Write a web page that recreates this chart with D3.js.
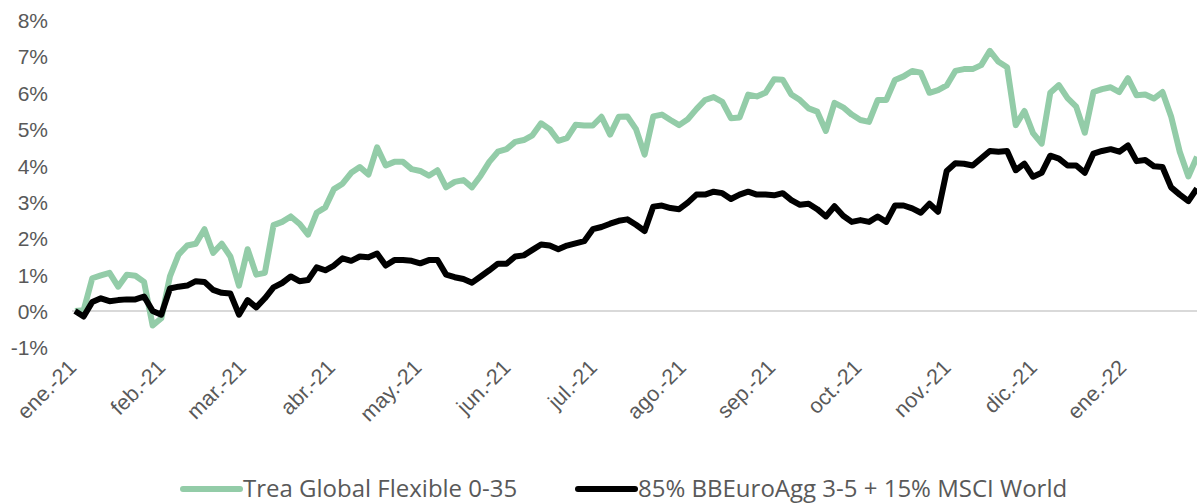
<!DOCTYPE html>
<html>
<head>
<meta charset="utf-8">
<script src="https://cdn.jsdelivr.net/npm/d3@7"></script>
<style>
    html, body { margin: 0; padding: 0; background: #fff; }
    svg { display: block; font-family: "Open Sans", sans-serif; }
    .axis text { fill: #595959; }
    .axis path, .axis line { display: none; }
</style>
</head>
<body>
<div id="chart"></div>
<script>
"use strict";

// Dates of the readings (every third day)
var dates = [
    "2021-01-01","2021-01-04","2021-01-07","2021-01-10","2021-01-13","2021-01-16","2021-01-19","2021-01-22","2021-01-25","2021-01-28",
    "2021-01-31","2021-02-03","2021-02-06","2021-02-09","2021-02-12","2021-02-15","2021-02-18","2021-02-21","2021-02-24","2021-02-27",
    "2021-03-02","2021-03-05","2021-03-08","2021-03-11","2021-03-14","2021-03-17","2021-03-20","2021-03-23","2021-03-26","2021-03-29",
    "2021-04-01","2021-04-04","2021-04-07","2021-04-10","2021-04-13","2021-04-16","2021-04-19","2021-04-22","2021-04-25","2021-04-28",
    "2021-05-01","2021-05-04","2021-05-07","2021-05-10","2021-05-13","2021-05-16","2021-05-19","2021-05-22","2021-05-25","2021-05-28",
    "2021-05-31","2021-06-03","2021-06-06","2021-06-09","2021-06-12","2021-06-15","2021-06-18","2021-06-21","2021-06-24","2021-06-27",
    "2021-06-30","2021-07-03","2021-07-06","2021-07-09","2021-07-12","2021-07-15","2021-07-18","2021-07-21","2021-07-24","2021-07-27",
    "2021-07-30","2021-08-02","2021-08-05","2021-08-08","2021-08-11","2021-08-14","2021-08-17","2021-08-20","2021-08-23","2021-08-26",
    "2021-08-29","2021-09-01","2021-09-04","2021-09-07","2021-09-10","2021-09-13","2021-09-16","2021-09-19","2021-09-22","2021-09-25",
    "2021-09-28","2021-10-01","2021-10-04","2021-10-07","2021-10-10","2021-10-13","2021-10-16","2021-10-19","2021-10-22","2021-10-25",
    "2021-10-28","2021-10-31","2021-11-03","2021-11-06","2021-11-09","2021-11-12","2021-11-15","2021-11-18","2021-11-21","2021-11-24",
    "2021-11-27","2021-11-30","2021-12-03","2021-12-06","2021-12-09","2021-12-12","2021-12-15","2021-12-18","2021-12-21","2021-12-24",
    "2021-12-27","2021-12-30","2022-01-02","2022-01-05","2022-01-08","2022-01-11","2022-01-14","2022-01-17","2022-01-20","2022-01-23",
    "2022-01-26"
];

// Trea Global Flexible 0-35, cumulative return in %
var fundValues = [
    0.00, 0.02, 0.90, 0.98, 1.05, 0.67, 1.00, 0.97, 0.80, -0.40,
    -0.20, 0.95, 1.55, 1.80, 1.85, 2.25, 1.60, 1.85, 1.50, 0.70,
    1.70, 1.00, 1.05, 2.36, 2.45, 2.60, 2.40, 2.10, 2.70, 2.85,
    3.35, 3.50, 3.80, 3.96, 3.75, 4.50, 4.00, 4.10, 4.10, 3.90,
    3.85, 3.72, 3.87, 3.40, 3.55, 3.60, 3.40, 3.72, 4.10, 4.38,
    4.45, 4.65, 4.70, 4.83, 5.16, 5.00, 4.68, 4.75, 5.12, 5.10,
    5.10, 5.34, 4.85, 5.34, 5.35, 5.00, 4.30, 5.35, 5.40, 5.25,
    5.11, 5.27, 5.55, 5.80, 5.88, 5.75, 5.30, 5.32, 5.95, 5.90,
    6.00, 6.37, 6.36, 5.95, 5.80, 5.57, 5.48, 4.95, 5.72, 5.60,
    5.40, 5.25, 5.20, 5.80, 5.80, 6.35, 6.45, 6.60, 6.55, 6.00,
    6.07, 6.20, 6.60, 6.65, 6.65, 6.76, 7.15, 6.85, 6.70, 5.11,
    5.50, 4.89, 4.60, 6.00, 6.21, 5.85, 5.62, 4.90, 6.02, 6.10,
    6.15, 6.02, 6.40, 5.93, 5.95, 5.84, 6.02, 5.35, 4.38, 3.70,
    4.24
];

// 85% BBEuroAgg 3-5 + 15% MSCI World, cumulative return in %
var benchValues = [
    0.00, -0.15, 0.25, 0.35, 0.27, 0.30, 0.32, 0.32, 0.40, 0.00,
    -0.10, 0.62, 0.67, 0.70, 0.82, 0.80, 0.58, 0.50, 0.48, -0.10,
    0.30, 0.10, 0.35, 0.65, 0.77, 0.95, 0.82, 0.85, 1.20, 1.12,
    1.25, 1.45, 1.38, 1.50, 1.48, 1.58, 1.25, 1.40, 1.40, 1.38,
    1.31, 1.40, 1.40, 1.00, 0.93, 0.88, 0.78, 0.95, 1.12, 1.30,
    1.30, 1.50, 1.53, 1.68, 1.83, 1.80, 1.70, 1.80, 1.86, 1.92,
    2.25, 2.31, 2.40, 2.48, 2.52, 2.37, 2.20, 2.87, 2.90, 2.83,
    2.80, 2.98, 3.20, 3.20, 3.28, 3.24, 3.08, 3.20, 3.28, 3.20,
    3.20, 3.18, 3.24, 3.05, 2.92, 2.95, 2.80, 2.60, 2.88, 2.62,
    2.45, 2.50, 2.45, 2.60, 2.45, 2.90, 2.90, 2.82, 2.70, 2.95,
    2.73, 3.85, 4.06, 4.05, 4.00, 4.20, 4.40, 4.38, 4.40, 3.87,
    4.05, 3.69, 3.80, 4.27, 4.19, 4.00, 4.00, 3.80, 4.33, 4.40,
    4.45, 4.38, 4.55, 4.12, 4.15, 3.98, 3.96, 3.40, 3.20, 3.02,
    3.37
];

var yTicks = [-1, 0, 1, 2, 3, 4, 5, 6, 7, 8];
var monthTicks = [
    "2021-01-01","2021-02-01","2021-03-01","2021-04-01","2021-05-01","2021-06-01",
    "2021-07-01","2021-08-01","2021-09-01","2021-10-01","2021-11-01","2021-12-01","2022-01-01"
];
var monthLabels = ["ene.-21","feb.-21","mar.-21","abr.-21","may.-21","jun.-21",
    "jul.-21","ago.-21","sep.-21","oct.-21","nov.-21","dic.-21","ene.-22"];

var seriesNames = ["Trea Global Flexible 0-35", "85% BBEuroAgg 3-5 + 15% MSCI World"];
var seriesColors = ["#93cca8", "#000000"];

var W = 1197, H = 503;
var parse = d3.timeParse("%Y-%m-%d");

var xScale = d3.scaleTime()
    .domain([parse(dates[0]), parse(dates[dates.length - 1])])
    .range([75, 1197]);
var yScale = d3.scaleLinear()
    .domain([-1, 8])
    .range([347.4, 20]);

var svg = d3.select("#chart").append("svg")
    .attr("width", W)
    .attr("height", H);

// Zero line only, as in the source
svg.append("line")
    .attr("x1", 72).attr("x2", W)
    .attr("y1", yScale(0)).attr("y2", yScale(0))
    .style("stroke", "#d9d9d9")
    .style("stroke-width", 2);

// Y axis
var yAxis = d3.axisLeft(yScale)
    .tickValues(yTicks)
    .tickSize(0)
    .tickPadding(0)
    .tickFormat(function(d) { return d + "%"; });
svg.append("g")
    .attr("class", "y axis")
    .attr("transform", "translate(48,0)")
    .call(yAxis)
    .selectAll("text")
    .style("font-size", "21px")
    .attr("dy", "0.36em");

// X axis, labels turned 45 degrees
var xAxis = d3.axisBottom(xScale)
    .tickValues(monthTicks.map(parse))
    .tickSize(0)
    .tickFormat(function(d, i) { return monthLabels[i]; });
svg.append("g")
    .attr("class", "x axis")
    .attr("transform", "translate(0,371)")
    .call(xAxis)
    .selectAll("text")
    .style("font-size", "21.5px")
    .style("text-anchor", "end")
    .attr("x", 3)
    .attr("y", 0)
    .attr("dy", 0)
    .attr("transform", "rotate(-45)");

// Lines
var line = d3.line()
    .x(function(d) { return xScale(d[0]); })
    .y(function(d) { return yScale(d[1]); });

[fundValues, benchValues].forEach(function(values, i) {
    var data = dates.map(function(d, j) { return [parse(d), values[j]]; });
    svg.append("path")
        .datum(data)
        .attr("d", line)
        .style("fill", "none")
        .style("stroke", seriesColors[i])
        .style("stroke-width", 6)
        .style("stroke-linejoin", "round");
});

// Legend
var legendX = [183, 578];
var legend = svg.append("g").attr("class", "legend");
seriesNames.forEach(function(name, i) {
    legend.append("line")
        .attr("x1", legendX[i]).attr("x2", legendX[i] + 57)
        .attr("y1", 489).attr("y2", 489)
        .style("stroke", seriesColors[i])
        .style("stroke-width", 6)
        .style("stroke-linecap", "round");
    legend.append("text")
        .attr("x", legendX[i] + 60)
        .attr("y", 497)
        .style("font-size", "24px")
        .style("fill", "#595959")
        .text(name);
});
</script>
</body>
</html>
